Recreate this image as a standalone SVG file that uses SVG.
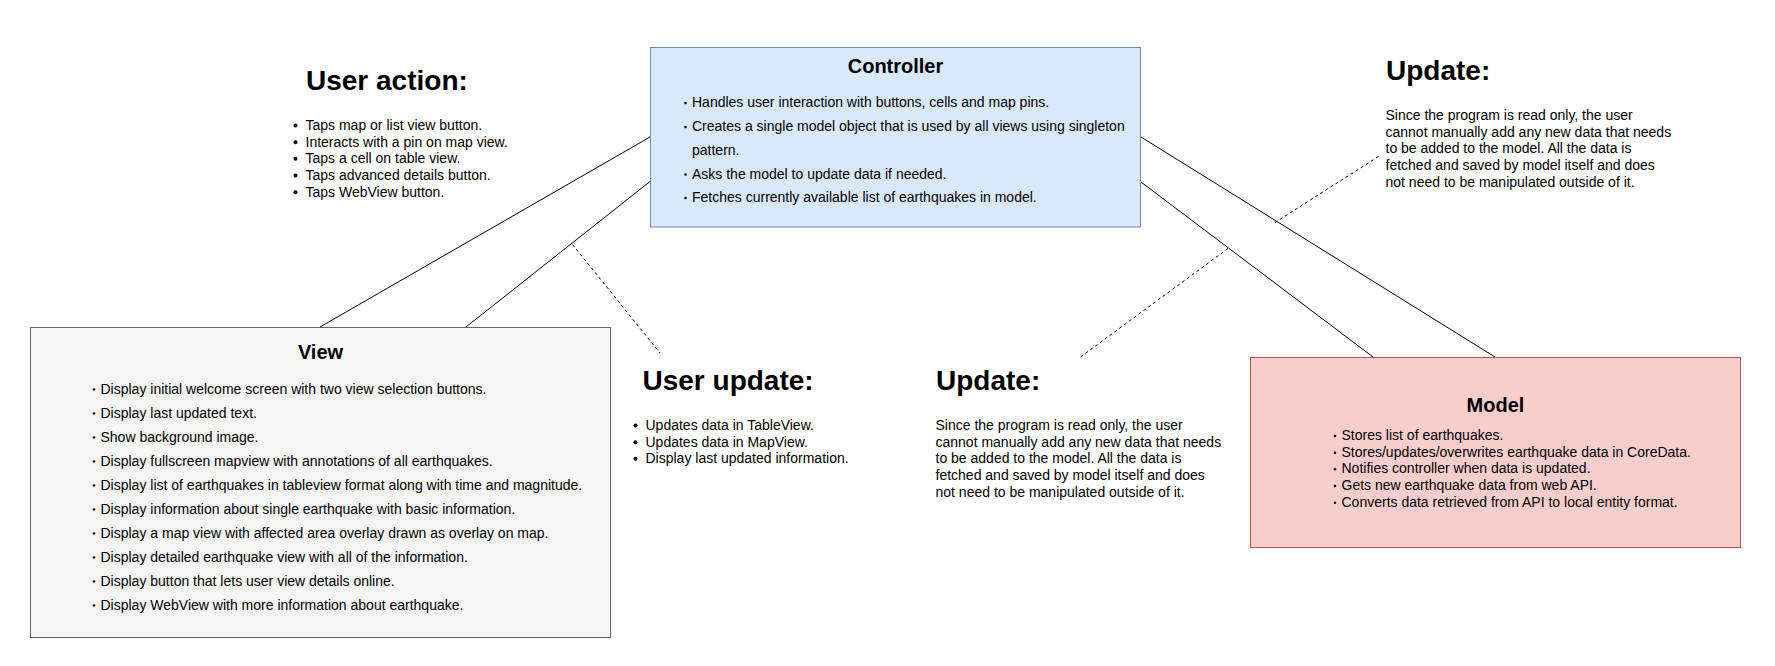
<svg xmlns="http://www.w3.org/2000/svg" width="1775" height="666" viewBox="0 0 1775 666">
<style>
text{font-family:"Liberation Sans",Arial,Helvetica,sans-serif;fill:#000}
.h{font-size:20px;font-weight:bold;text-anchor:middle}
.big{font-size:28px;font-weight:bold}
.t{font-size:14px}
.edge{stroke:#000;stroke-width:1;fill:none}
.dash{stroke:#000;stroke-width:1;fill:none;stroke-dasharray:3 3}
.b{fill:#000}
</style>
<rect width="1775" height="666" fill="#fff"/>
<g id="connectors">
<line class="edge" x1="320" y1="327" x2="650" y2="137"/>
<line class="edge" x1="466" y1="327" x2="650" y2="181.5"/>
<line class="edge" x1="1141" y1="137" x2="1495" y2="357"/>
<line class="edge" x1="1141" y1="182" x2="1373" y2="357"/>
<line class="dash" x1="572.5" y1="244.5" x2="660" y2="353"/>
<line class="dash" x1="1228" y1="248.5" x2="1080.5" y2="357"/>
<line class="dash" x1="1378.5" y1="156.5" x2="1275" y2="222.5"/>
</g>
<g id="controller">
<rect x="650.5" y="47.5" width="490" height="179.5" fill="#dae8fc" stroke="#6c8ebf"/>
<text class="h" x="895.5" y="73">Controller</text>
<circle class="b" cx="685.5" cy="103" r="1.3"/>
<text class="t" x="692" y="107">Handles user interaction with buttons, cells and map pins.</text>
<circle class="b" cx="685.5" cy="127" r="1.3"/>
<text class="t" x="692" y="131">Creates a single model object that is used by all views using singleton</text>
<text class="t" x="692" y="154.5">pattern.</text>
<circle class="b" cx="685.5" cy="174.5" r="1.3"/>
<text class="t" x="692" y="178.5">Asks the model to update data if needed.</text>
<circle class="b" cx="685.5" cy="198" r="1.3"/>
<text class="t" x="692" y="202">Fetches currently available list of earthquakes in model.</text>
</g>
<g id="view">
<rect x="30.5" y="327.5" width="580" height="310" fill="#f5f5f5" stroke="#666666"/>
<text class="h" x="320.5" y="359">View</text>
<g class="t">
<circle class="b" cx="94" cy="389.5" r="1.3"/>
<text class="t" x="100.5" y="393.5">Display initial welcome screen with two view selection buttons.</text>
<circle class="b" cx="94" cy="413.5" r="1.3"/>
<text class="t" x="100.5" y="417.5">Display last updated text.</text>
<circle class="b" cx="94" cy="437.5" r="1.3"/>
<text class="t" x="100.5" y="441.5">Show background image.</text>
<circle class="b" cx="94" cy="461.5" r="1.3"/>
<text class="t" x="100.5" y="465.5">Display fullscreen mapview with annotations of all earthquakes.</text>
<circle class="b" cx="94" cy="485.5" r="1.3"/>
<text class="t" x="100.5" y="489.5">Display list of earthquakes in tableview format along with time and magnitude.</text>
<circle class="b" cx="94" cy="509.5" r="1.3"/>
<text class="t" x="100.5" y="513.5">Display information about single earthquake with basic information.</text>
<circle class="b" cx="94" cy="533.5" r="1.3"/>
<text class="t" x="100.5" y="537.5">Display a map view with affected area overlay drawn as overlay on map.</text>
<circle class="b" cx="94" cy="557.5" r="1.3"/>
<text class="t" x="100.5" y="561.5">Display detailed earthquake view with all of the information.</text>
<circle class="b" cx="94" cy="581.5" r="1.3"/>
<text class="t" x="100.5" y="585.5">Display button that lets user view details online.</text>
<circle class="b" cx="94" cy="605.5" r="1.3"/>
<text class="t" x="100.5" y="609.5">Display WebView with more information about earthquake.</text>
</g>
</g>
<g id="model">
<rect x="1250.5" y="357.5" width="490" height="190" fill="#f8cecc" stroke="#b85450"/>
<text class="h" x="1495.5" y="411.5">Model</text>
<circle class="b" cx="1335" cy="436" r="1.3"/>
<text class="t" x="1341.5" y="440">Stores list of earthquakes.</text>
<circle class="b" cx="1335" cy="452.7" r="1.3"/>
<text class="t" x="1341.5" y="456.7">Stores/updates/overwrites earthquake data in CoreData.</text>
<circle class="b" cx="1335" cy="469.3" r="1.3"/>
<text class="t" x="1341.5" y="473.3">Notifies controller when data is updated.</text>
<circle class="b" cx="1335" cy="486" r="1.3"/>
<text class="t" x="1341.5" y="490">Gets new earthquake data from web API.</text>
<circle class="b" cx="1335" cy="502.7" r="1.3"/>
<text class="t" x="1341.5" y="506.7">Converts data retrieved from API to local entity format.</text>
</g>
<g id="user-action">
<text class="big" x="306" y="90">User action:</text>
<circle class="b" cx="295.5" cy="125.5" r="2"/>
<text class="t" x="305.5" y="130">Taps map or list view button.</text>
<circle class="b" cx="295.5" cy="142.2" r="2"/>
<text class="t" x="305.5" y="146.7">Interacts with a pin on map view.</text>
<circle class="b" cx="295.5" cy="158.8" r="2"/>
<text class="t" x="305.5" y="163.3">Taps a cell on table view.</text>
<circle class="b" cx="295.5" cy="175.5" r="2"/>
<text class="t" x="305.5" y="180">Taps advanced details button.</text>
<circle class="b" cx="295.5" cy="192.2" r="2"/>
<text class="t" x="305.5" y="196.7">Taps WebView button.</text>
</g>
<g id="update-top">
<text class="big" x="1386" y="80">Update:</text>
<text class="t" x="1385.5" y="120">Since the program is read only, the user</text>
<text class="t" x="1385.5" y="136.7">cannot manually add any new data that needs</text>
<text class="t" x="1385.5" y="153.3">to be added to the model. All the data is</text>
<text class="t" x="1385.5" y="170">fetched and saved by model itself and does</text>
<text class="t" x="1385.5" y="186.7">not need to be manipulated outside of it.</text>
</g>
<g id="user-update">
<text class="big" x="642.5" y="390">User update:</text>
<circle class="b" cx="635.5" cy="425.5" r="2"/>
<text class="t" x="645.5" y="430">Updates data in TableView.</text>
<circle class="b" cx="635.5" cy="442.2" r="2"/>
<text class="t" x="645.5" y="446.7">Updates data in MapView.</text>
<circle class="b" cx="635.5" cy="458.8" r="2"/>
<text class="t" x="645.5" y="463.3">Display last updated information.</text>
</g>
<g id="update-middle">
<text class="big" x="936" y="390">Update:</text>
<text class="t" x="935.5" y="430">Since the program is read only, the user</text>
<text class="t" x="935.5" y="446.7">cannot manually add any new data that needs</text>
<text class="t" x="935.5" y="463.3">to be added to the model. All the data is</text>
<text class="t" x="935.5" y="480">fetched and saved by model itself and does</text>
<text class="t" x="935.5" y="496.7">not need to be manipulated outside of it.</text>
</g>
</svg>
